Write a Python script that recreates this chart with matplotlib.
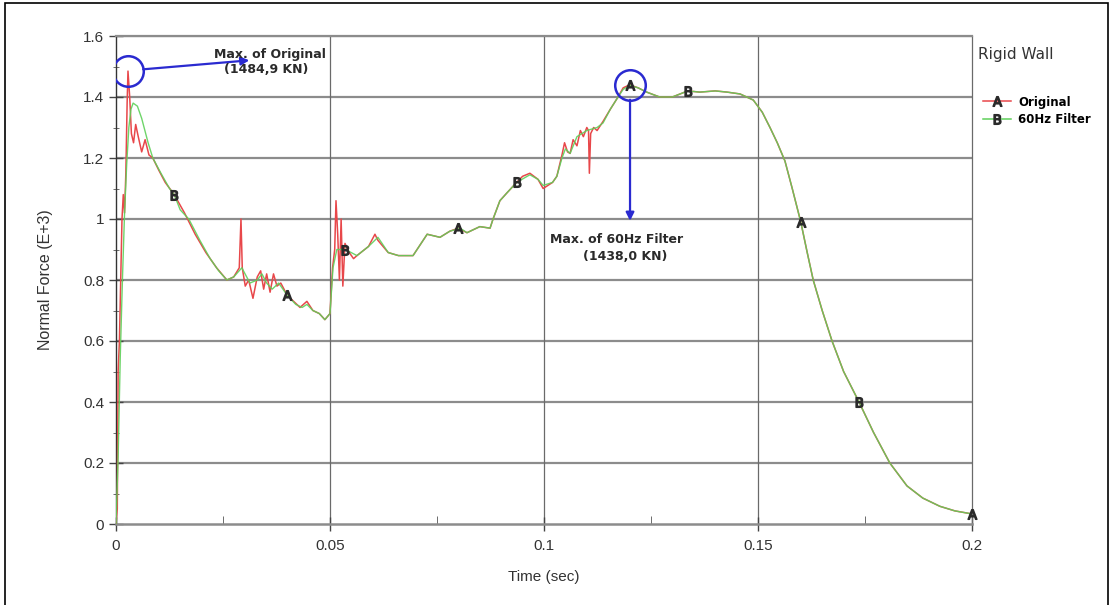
import matplotlib
matplotlib.use("Agg")
import matplotlib.pyplot as plt
from matplotlib.lines import Line2D
from matplotlib.patches import Rectangle
from matplotlib.ticker import MultipleLocator, FormatStrFormatter
import numpy as np

# ---------------- data ----------------
time_filter = [0.0, 0.0005, 0.0010, 0.0015, 0.0020, 0.0025, 0.0030, 0.0035, 0.0040, 0.0050,
               0.0060, 0.0075, 0.0086, 0.0105, 0.0125, 0.0136, 0.0150, 0.0170, 0.0196, 0.0220,
               0.0240, 0.0259, 0.0275, 0.0294, 0.0313, 0.0330, 0.0341, 0.0352, 0.0365, 0.0380,
               0.0400, 0.0420, 0.0435, 0.0446, 0.0460, 0.0475, 0.0488, 0.0500, 0.0507, 0.0516,
               0.0536, 0.0563, 0.0590, 0.0612, 0.0636, 0.0660, 0.0694, 0.0727, 0.0757, 0.0780,
               0.0804, 0.0820, 0.0850, 0.0874, 0.0881, 0.0897, 0.0913, 0.0936, 0.0967, 0.0986,
               0.0998, 0.1020, 0.1030, 0.1042, 0.1050, 0.1061, 0.1077, 0.1100, 0.1124, 0.1138,
               0.1155, 0.1173, 0.1185, 0.1201, 0.1220, 0.1240, 0.1270, 0.1300, 0.1336, 0.1364,
               0.1400, 0.1428, 0.1458, 0.1489, 0.1510, 0.1528, 0.1545, 0.1563, 0.1580, 0.1600,
               0.1615, 0.1629, 0.1650, 0.1673, 0.1700, 0.1736, 0.1770, 0.1808, 0.1848, 0.1885,
               0.1925, 0.1960, 0.2000]
force_filter = [0.0, 0.22, 0.55, 0.80, 1.02, 1.18, 1.30, 1.36, 1.38, 1.37,
                1.33, 1.25, 1.20, 1.15, 1.10, 1.08, 1.03, 1.00, 0.93, 0.87,
                0.83, 0.80, 0.81, 0.84, 0.79, 0.80, 0.82, 0.79, 0.77, 0.79,
                0.75, 0.72, 0.71, 0.72, 0.70, 0.69, 0.67, 0.69, 0.84, 0.90,
                0.90, 0.88, 0.91, 0.94, 0.89, 0.88, 0.88, 0.95, 0.94, 0.96,
                0.97, 0.955, 0.975, 0.97, 1.00, 1.06, 1.085, 1.12, 1.145, 1.13,
                1.11, 1.12, 1.14, 1.20, 1.23, 1.215, 1.27, 1.29, 1.30, 1.315,
                1.36, 1.40, 1.425, 1.438, 1.43, 1.416, 1.40, 1.40, 1.42, 1.416,
                1.42, 1.416, 1.41, 1.39, 1.35, 1.30, 1.25, 1.19, 1.10, 0.99,
                0.89, 0.80, 0.70, 0.60, 0.50, 0.40, 0.30, 0.20, 0.125, 0.085,
                0.058, 0.043, 0.033]

time_orig = [0.0, 0.0003, 0.0005, 0.0008, 0.0011, 0.0014, 0.0017, 0.0020, 0.0023, 0.0026,
             0.0028, 0.0032, 0.0036, 0.0041, 0.0046, 0.0052, 0.0060, 0.0068, 0.0077, 0.0086,
             0.0100, 0.0115, 0.0136, 0.0160, 0.0185, 0.0210, 0.0235, 0.0259, 0.0275, 0.0288,
             0.0292, 0.0295, 0.0302, 0.0310, 0.0320, 0.0330, 0.0338, 0.0345, 0.0352, 0.0360,
             0.0368, 0.0376, 0.0385, 0.0400, 0.0415, 0.0430, 0.0446, 0.0460, 0.0475, 0.0488,
             0.0500, 0.0506, 0.0511, 0.0514, 0.0518, 0.0522, 0.0526, 0.0530, 0.0535, 0.0545,
             0.0555, 0.0563, 0.0590, 0.0605, 0.0612, 0.0636, 0.0660, 0.0694, 0.0727, 0.0757,
             0.0780, 0.0800, 0.0820, 0.0850, 0.0874, 0.0881, 0.0897, 0.0913, 0.0936, 0.0950,
             0.0967, 0.0986, 0.0998, 0.1020, 0.1030, 0.1042, 0.1048, 0.1055, 0.1061, 0.1068,
             0.1077, 0.1085, 0.1092, 0.1100, 0.1104, 0.1106, 0.1109, 0.1116, 0.1124, 0.1138,
             0.1155, 0.1173, 0.1185, 0.1200, 0.1220, 0.1240, 0.1270, 0.1300, 0.1336, 0.1364,
             0.1400, 0.1428, 0.1458, 0.1489, 0.1510, 0.1528, 0.1545, 0.1563, 0.1580, 0.1600,
             0.1615, 0.1629, 0.1650, 0.1673, 0.1700, 0.1736, 0.1770, 0.1808, 0.1848, 0.1885,
             0.1925, 0.1960, 0.2000]
force_orig = [0.0, 0.05, 0.50, 0.60, 0.80, 1.00, 1.08, 1.02, 1.15, 1.38,
              1.485, 1.40, 1.28, 1.25, 1.31, 1.27, 1.22, 1.26, 1.21, 1.20,
              1.16, 1.12, 1.08, 1.02, 0.95, 0.89, 0.84, 0.80, 0.81, 0.84,
              1.00, 0.84, 0.78, 0.80, 0.74, 0.81, 0.83, 0.77, 0.82, 0.76,
              0.82, 0.78, 0.79, 0.75, 0.73, 0.71, 0.73, 0.70, 0.69, 0.67,
              0.69, 0.84, 0.90, 1.06, 0.95, 0.80, 1.00, 0.78, 0.92, 0.89,
              0.87, 0.88, 0.91, 0.95, 0.93, 0.89, 0.88, 0.88, 0.95, 0.94,
              0.96, 0.97, 0.955, 0.975, 0.97, 1.00, 1.06, 1.085, 1.12, 1.14,
              1.15, 1.13, 1.10, 1.12, 1.14, 1.21, 1.25, 1.22, 1.215, 1.26,
              1.24, 1.29, 1.27, 1.30, 1.29, 1.15, 1.28, 1.30, 1.29, 1.32,
              1.36, 1.40, 1.43, 1.44, 1.43, 1.416, 1.40, 1.40, 1.42, 1.416,
              1.42, 1.416, 1.41, 1.39, 1.35, 1.30, 1.25, 1.19, 1.10, 0.99,
              0.89, 0.80, 0.70, 0.60, 0.50, 0.40, 0.30, 0.20, 0.125, 0.085,
              0.058, 0.043, 0.033]

marks_orig_t = [0.0400, 0.0800, 0.1200, 0.1600, 0.2000]
marks_filter_t = [0.0136, 0.0536, 0.0936, 0.1336, 0.1736]

peak_orig = (0.0028, 1.4849)
peak_filter = (0.1201, 1.4380)

x_ticks = [0, 0.05, 0.1, 0.15, 0.2]
y_ticks = [0, 0.2, 0.4, 0.6, 0.8, 1.0, 1.2, 1.4, 1.6]

RED = "#e8474a"
GREEN = "#5fd05a"
BLUE = "#2a2ad0"
TXT = "#2a2a2a"

plt.rcParams['font.family'] = ['Liberation Sans', 'DejaVu Sans']
plt.rcParams['mathtext.fontset'] = 'dejavusans'

fig = plt.figure(figsize=(11.11, 6.05), dpi=100)
ax = fig.add_axes([116/1111, 1-524/605, (972-116)/1111, (524-36)/605])

# grid lines
for yv in y_ticks[1:]:
    ax.axhline(yv, color="#8c8c8c", lw=1.6, zorder=1)
for xv in x_ticks[1:-1]:
    ax.axvline(xv, color="#6a6a6a", lw=0.9, zorder=1)

idx_o = [int(np.argmin(np.abs(np.array(time_orig) - t))) for t in marks_orig_t]
idx_f = [int(np.argmin(np.abs(np.array(time_filter) - t))) for t in marks_filter_t]

ax.plot(time_orig, force_orig, color=RED, lw=1.1, zorder=3)
ax.plot(time_filter, force_filter, color=GREEN, lw=1.0, zorder=4, alpha=0.9)
ax.plot(time_orig, force_orig, ls='none', marker=r'$\mathsf{A}$', markersize=7,
        color=TXT, markevery=idx_o, zorder=6, clip_on=False)
ax.plot(time_filter, force_filter, ls='none', marker=r'$\mathsf{B}$', markersize=7,
        color=TXT, markevery=idx_f, zorder=6, clip_on=False)

# peak circles
ax.plot([peak_orig[0]], [peak_orig[1]], marker='o', markersize=22, mfc='none',
        mec=BLUE, mew=1.8, zorder=7)
ax.plot([peak_filter[0]], [peak_filter[1]], marker='o', markersize=22, mfc='none',
        mec=BLUE, mew=1.8, zorder=7)

ax.annotate('', xy=(0.0318, 1.521), xytext=(0.0057, 1.490),
            arrowprops=dict(arrowstyle='-|>', color=BLUE, lw=1.6, mutation_scale=12),
            zorder=7)
ax.annotate('', xy=(0.1201, 0.985), xytext=(0.1201, 1.40),
            arrowprops=dict(arrowstyle='-|>', color=BLUE, lw=1.6, mutation_scale=12),
            zorder=7)

afont = dict(family='DejaVu Sans', fontsize=9, fontweight='bold', color=TXT, zorder=8)
ax.text(0.0360, 1.540, 'Max. of Original', ha='center', va='center', **afont)
ax.text(0.0352, 1.490, '(1484,9 KN)', ha='center', va='center', **afont)
ax.text(0.1170, 0.932, 'Max. of 60Hz Filter', ha='center', va='center', **afont)
ax.text(0.1190, 0.877, '(1438,0 KN)', ha='center', va='center', **afont)

ax.set_xlim(0, 0.2)
ax.set_ylim(0, 1.6)
ax.set_xticks(x_ticks)
ax.set_yticks(y_ticks)
ax.xaxis.set_minor_locator(MultipleLocator(0.025))
ax.yaxis.set_minor_locator(MultipleLocator(0.1))
ax.xaxis.set_major_formatter(FormatStrFormatter('%g'))
ax.yaxis.set_major_formatter(FormatStrFormatter('%g'))
ax.tick_params(axis='both', which='major', labelsize=11, labelcolor='#333333',
               color='#444444', direction='inout', length=10, width=1)
ax.tick_params(axis='y', which='minor', direction='inout', length=5, color='#555555')
ax.tick_params(axis='x', which='minor', direction='in', length=6, color='#555555')
ax.tick_params(axis='x', which='major', pad=6)

ax.spines['left'].set_color('#333333')
ax.spines['left'].set_linewidth(1.0)
ax.spines['bottom'].set_color('#8c8c8c')
ax.spines['bottom'].set_linewidth(1.8)
ax.spines['top'].set_color('#8c8c8c')
ax.spines['top'].set_linewidth(1.6)
ax.spines['right'].set_color('#6a6a6a')
ax.spines['right'].set_linewidth(0.9)

ax.set_xlabel('Time (sec)', fontsize=11, color='#333333', labelpad=12)
ax.set_ylabel('Normal Force (E+3)', fontsize=11.5, color='#333333', labelpad=22)

# legend
fig.text(978/1111, 1-55/605, 'Rigid Wall', fontsize=11, color='#333333', va='center',
         ha='left', family='DejaVu Sans')
handles = [Line2D([], [], color=RED, lw=1.1, marker=r'$\mathsf{A}$', markersize=7,
                  mfc=TXT, mec=TXT),
           Line2D([], [], color=GREEN, lw=1.1, marker=r'$\mathsf{B}$', markersize=7,
                  mfc=TXT, mec=TXT)]
fig.legend(handles, ['Original', '60Hz Filter'], loc='upper left',
           bbox_to_anchor=(972/1111, 1-85/605), frameon=False,
           handlelength=2.4, handletextpad=0.6, labelspacing=0.35,
           prop={'family': 'DejaVu Sans', 'weight': 'bold', 'size': 8.5})

# outer border
fig.add_artist(Rectangle((5/1111, -0.01), 1103/1111, 1.0 - 3/605 + 0.01,
                         transform=fig.transFigure, fill=False, edgecolor='black',
                         lw=1.2))

fig.savefig('out.png', dpi=100)
